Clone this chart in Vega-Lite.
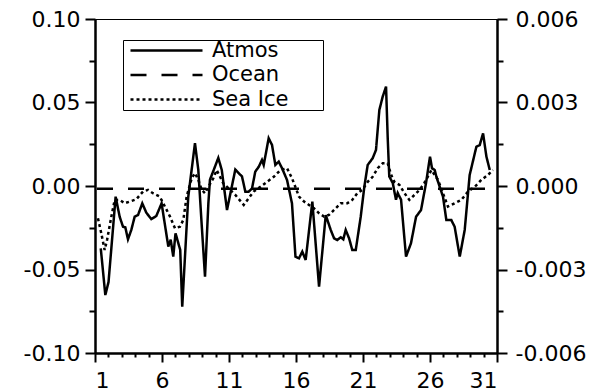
{
  "$schema": "https://vega.github.io/schema/vega-lite/v6.json",
  "width": 402,
  "height": 334,
  "autosize": {"type": "none"},
  "padding": {"left": 95, "top": 19, "right": 105, "bottom": 38},
  "background": "white",
  "config": {
    "view": {"stroke": "black", "strokeWidth": 1},
    "axis": {
      "grid": false,
      "domainColor": "black",
      "domainWidth": 2,
      "tickColor": "black",
      "tickWidth": 2,
      "labelColor": "black",
      "labelFont": "DejaVu Sans",
      "labelFontSize": 22,
      "title": null
    },
    "legend": {
      "labelFont": "DejaVu Sans",
      "labelFontSize": 21,
      "labelColor": "black"
    }
  },
  "datasets": {
    "ocean": [
      {"day": 1.15, "value": -0.0001, "series": "Ocean"},
      {"day": 30.9, "value": -0.0001, "series": "Ocean"}
    ],
    "seaice": [
      {"day": 1.22, "value": -0.00116, "series": "Sea Ice"},
      {"day": 1.47, "value": -0.0017, "series": "Sea Ice"},
      {"day": 1.72, "value": -0.0023, "series": "Sea Ice"},
      {"day": 1.9, "value": -0.00194, "series": "Sea Ice"},
      {"day": 2.22, "value": -0.0011, "series": "Sea Ice"},
      {"day": 2.47, "value": -0.0005, "series": "Sea Ice"},
      {"day": 2.84, "value": -0.0005, "series": "Sea Ice"},
      {"day": 3.22, "value": -0.00062, "series": "Sea Ice"},
      {"day": 3.59, "value": -0.00056, "series": "Sea Ice"},
      {"day": 4.08, "value": -0.00048, "series": "Sea Ice"},
      {"day": 4.58, "value": -0.0002, "series": "Sea Ice"},
      {"day": 4.96, "value": -0.00014, "series": "Sea Ice"},
      {"day": 5.33, "value": -0.00026, "series": "Sea Ice"},
      {"day": 5.83, "value": -0.00038, "series": "Sea Ice"},
      {"day": 6.22, "value": -0.00074, "series": "Sea Ice"},
      {"day": 6.6, "value": -0.0011, "series": "Sea Ice"},
      {"day": 6.97, "value": -0.00152, "series": "Sea Ice"},
      {"day": 7.34, "value": -0.00146, "series": "Sea Ice"},
      {"day": 7.59, "value": -0.00122, "series": "Sea Ice"},
      {"day": 7.84, "value": -0.00038, "series": "Sea Ice"},
      {"day": 8.22, "value": 0.00028, "series": "Sea Ice"},
      {"day": 8.46, "value": 0.00046, "series": "Sea Ice"},
      {"day": 8.71, "value": 0.00022, "series": "Sea Ice"},
      {"day": 8.96, "value": -0.00014, "series": "Sea Ice"},
      {"day": 9.21, "value": -0.00026, "series": "Sea Ice"},
      {"day": 9.46, "value": -0.00003, "series": "Sea Ice"},
      {"day": 9.83, "value": 0.00028, "series": "Sea Ice"},
      {"day": 10.08, "value": 0.00057, "series": "Sea Ice"},
      {"day": 10.57, "value": 0.0001, "series": "Sea Ice"},
      {"day": 10.95, "value": -0.00008, "series": "Sea Ice"},
      {"day": 11.47, "value": -0.00032, "series": "Sea Ice"},
      {"day": 12.1, "value": -0.00068, "series": "Sea Ice"},
      {"day": 12.47, "value": -0.00044, "series": "Sea Ice"},
      {"day": 12.84, "value": -0.0002, "series": "Sea Ice"},
      {"day": 13.34, "value": -0.00003, "series": "Sea Ice"},
      {"day": 13.84, "value": 0.00015, "series": "Sea Ice"},
      {"day": 14.34, "value": 0.00033, "series": "Sea Ice"},
      {"day": 14.83, "value": 0.00057, "series": "Sea Ice"},
      {"day": 15.33, "value": 0.00064, "series": "Sea Ice"},
      {"day": 15.7, "value": 0.00028, "series": "Sea Ice"},
      {"day": 15.95, "value": -0.00003, "series": "Sea Ice"},
      {"day": 16.22, "value": -0.00038, "series": "Sea Ice"},
      {"day": 16.6, "value": -0.00056, "series": "Sea Ice"},
      {"day": 16.97, "value": -0.00068, "series": "Sea Ice"},
      {"day": 17.34, "value": -0.0008, "series": "Sea Ice"},
      {"day": 17.72, "value": -0.00098, "series": "Sea Ice"},
      {"day": 18.1, "value": -0.0011, "series": "Sea Ice"},
      {"day": 18.46, "value": -0.00104, "series": "Sea Ice"},
      {"day": 18.84, "value": -0.00086, "series": "Sea Ice"},
      {"day": 19.34, "value": -0.00062, "series": "Sea Ice"},
      {"day": 19.83, "value": -0.00062, "series": "Sea Ice"},
      {"day": 20.2, "value": -0.0005, "series": "Sea Ice"},
      {"day": 20.57, "value": -0.00026, "series": "Sea Ice"},
      {"day": 20.95, "value": -0.00014, "series": "Sea Ice"},
      {"day": 21.35, "value": 0.00015, "series": "Sea Ice"},
      {"day": 21.72, "value": 0.00033, "series": "Sea Ice"},
      {"day": 22.1, "value": 0.00064, "series": "Sea Ice"},
      {"day": 22.47, "value": 0.00082, "series": "Sea Ice"},
      {"day": 22.84, "value": 0.00082, "series": "Sea Ice"},
      {"day": 23.1, "value": 0.0004, "series": "Sea Ice"},
      {"day": 23.34, "value": 0.00015, "series": "Sea Ice"},
      {"day": 23.72, "value": 0.00004, "series": "Sea Ice"},
      {"day": 24.1, "value": -0.00026, "series": "Sea Ice"},
      {"day": 24.46, "value": -0.0005, "series": "Sea Ice"},
      {"day": 24.84, "value": -0.00032, "series": "Sea Ice"},
      {"day": 25.22, "value": -0.00014, "series": "Sea Ice"},
      {"day": 25.57, "value": 0.0001, "series": "Sea Ice"},
      {"day": 25.83, "value": 0.00033, "series": "Sea Ice"},
      {"day": 26.1, "value": 0.00057, "series": "Sea Ice"},
      {"day": 26.6, "value": 0.00022, "series": "Sea Ice"},
      {"day": 26.97, "value": -0.00026, "series": "Sea Ice"},
      {"day": 27.34, "value": -0.00074, "series": "Sea Ice"},
      {"day": 27.84, "value": -0.00062, "series": "Sea Ice"},
      {"day": 28.34, "value": -0.0005, "series": "Sea Ice"},
      {"day": 28.84, "value": -0.0002, "series": "Sea Ice"},
      {"day": 29.34, "value": -0.00003, "series": "Sea Ice"},
      {"day": 29.83, "value": 0.00022, "series": "Sea Ice"},
      {"day": 30.33, "value": 0.0004, "series": "Sea Ice"},
      {"day": 30.7, "value": 0.00057, "series": "Sea Ice"}
    ],
    "atmos": [
      {"day": 1.43, "value": -0.0373, "series": "Atmos"},
      {"day": 1.77, "value": -0.0653, "series": "Atmos"},
      {"day": 2.01, "value": -0.0575, "series": "Atmos"},
      {"day": 2.54, "value": -0.0064, "series": "Atmos"},
      {"day": 2.84, "value": -0.0184, "series": "Atmos"},
      {"day": 3.09, "value": -0.0244, "series": "Atmos"},
      {"day": 3.26, "value": -0.0247, "series": "Atmos"},
      {"day": 3.46, "value": -0.0319, "series": "Atmos"},
      {"day": 3.71, "value": -0.0263, "series": "Atmos"},
      {"day": 3.96, "value": -0.0184, "series": "Atmos"},
      {"day": 4.21, "value": -0.0174, "series": "Atmos"},
      {"day": 4.53, "value": -0.0104, "series": "Atmos"},
      {"day": 4.83, "value": -0.016, "series": "Atmos"},
      {"day": 5.2, "value": -0.0198, "series": "Atmos"},
      {"day": 5.57, "value": -0.018, "series": "Atmos"},
      {"day": 5.97, "value": -0.0104, "series": "Atmos"},
      {"day": 6.47, "value": -0.0362, "series": "Atmos"},
      {"day": 6.65, "value": -0.0322, "series": "Atmos"},
      {"day": 6.84, "value": -0.0423, "series": "Atmos"},
      {"day": 7.01, "value": -0.0283, "series": "Atmos"},
      {"day": 7.36, "value": -0.0383, "series": "Atmos"},
      {"day": 7.51, "value": -0.0723, "series": "Atmos"},
      {"day": 7.96, "value": -0.0064, "series": "Atmos"},
      {"day": 8.46, "value": 0.0256, "series": "Atmos"},
      {"day": 8.71, "value": 0.0096, "series": "Atmos"},
      {"day": 8.94, "value": -0.0204, "series": "Atmos"},
      {"day": 9.21, "value": -0.0543, "series": "Atmos"},
      {"day": 9.46, "value": -0.0104, "series": "Atmos"},
      {"day": 9.58, "value": 0.0038, "series": "Atmos"},
      {"day": 9.96, "value": 0.0117, "series": "Atmos"},
      {"day": 10.2, "value": 0.0168, "series": "Atmos"},
      {"day": 10.46, "value": 0.0096, "series": "Atmos"},
      {"day": 10.85, "value": -0.0144, "series": "Atmos"},
      {"day": 11.47, "value": 0.0098, "series": "Atmos"},
      {"day": 11.97, "value": 0.0057, "series": "Atmos"},
      {"day": 12.22, "value": -0.0034, "series": "Atmos"},
      {"day": 12.47, "value": -0.0034, "series": "Atmos"},
      {"day": 12.72, "value": -0.0014, "series": "Atmos"},
      {"day": 12.96, "value": 0.0086, "series": "Atmos"},
      {"day": 13.22, "value": 0.0115, "series": "Atmos"},
      {"day": 13.46, "value": 0.0156, "series": "Atmos"},
      {"day": 13.59, "value": 0.0126, "series": "Atmos"},
      {"day": 13.96, "value": 0.0286, "series": "Atmos"},
      {"day": 14.21, "value": 0.0246, "series": "Atmos"},
      {"day": 14.46, "value": 0.0126, "series": "Atmos"},
      {"day": 14.71, "value": 0.0146, "series": "Atmos"},
      {"day": 14.96, "value": 0.0106, "series": "Atmos"},
      {"day": 15.33, "value": 0.0036, "series": "Atmos"},
      {"day": 15.7, "value": -0.0104, "series": "Atmos"},
      {"day": 15.96, "value": -0.0423, "series": "Atmos"},
      {"day": 16.22, "value": -0.0433, "series": "Atmos"},
      {"day": 16.47, "value": -0.0393, "series": "Atmos"},
      {"day": 16.72, "value": -0.0443, "series": "Atmos"},
      {"day": 17.22, "value": -0.0094, "series": "Atmos"},
      {"day": 17.72, "value": -0.0603, "series": "Atmos"},
      {"day": 18.22, "value": -0.0174, "series": "Atmos"},
      {"day": 18.59, "value": -0.0263, "series": "Atmos"},
      {"day": 18.84, "value": -0.0313, "series": "Atmos"},
      {"day": 19.08, "value": -0.0323, "series": "Atmos"},
      {"day": 19.34, "value": -0.0307, "series": "Atmos"},
      {"day": 19.53, "value": -0.0319, "series": "Atmos"},
      {"day": 19.71, "value": -0.0263, "series": "Atmos"},
      {"day": 19.96, "value": -0.0313, "series": "Atmos"},
      {"day": 20.2, "value": -0.0383, "series": "Atmos"},
      {"day": 20.46, "value": -0.0383, "series": "Atmos"},
      {"day": 20.83, "value": -0.0184, "series": "Atmos"},
      {"day": 21.1, "value": -0.0004, "series": "Atmos"},
      {"day": 21.35, "value": 0.0126, "series": "Atmos"},
      {"day": 21.72, "value": 0.0166, "series": "Atmos"},
      {"day": 21.97, "value": 0.0216, "series": "Atmos"},
      {"day": 22.22, "value": 0.0455, "series": "Atmos"},
      {"day": 22.47, "value": 0.0535, "series": "Atmos"},
      {"day": 22.72, "value": 0.0595, "series": "Atmos"},
      {"day": 22.84, "value": 0.0297, "series": "Atmos"},
      {"day": 22.96, "value": 0.0057, "series": "Atmos"},
      {"day": 23.22, "value": 0.0018, "series": "Atmos"},
      {"day": 23.46, "value": -0.0082, "series": "Atmos"},
      {"day": 23.59, "value": -0.0042, "series": "Atmos"},
      {"day": 23.84, "value": -0.0082, "series": "Atmos"},
      {"day": 24.21, "value": -0.0423, "series": "Atmos"},
      {"day": 24.58, "value": -0.0343, "series": "Atmos"},
      {"day": 24.96, "value": -0.0184, "series": "Atmos"},
      {"day": 25.33, "value": -0.0144, "series": "Atmos"},
      {"day": 25.7, "value": 0.0016, "series": "Atmos"},
      {"day": 26.0, "value": 0.0176, "series": "Atmos"},
      {"day": 26.15, "value": 0.0106, "series": "Atmos"},
      {"day": 26.35, "value": 0.0096, "series": "Atmos"},
      {"day": 26.47, "value": 0.0057, "series": "Atmos"},
      {"day": 26.97, "value": -0.0064, "series": "Atmos"},
      {"day": 27.22, "value": -0.0204, "series": "Atmos"},
      {"day": 27.59, "value": -0.0204, "series": "Atmos"},
      {"day": 27.84, "value": -0.0244, "series": "Atmos"},
      {"day": 28.22, "value": -0.0423, "series": "Atmos"},
      {"day": 28.59, "value": -0.0263, "series": "Atmos"},
      {"day": 28.96, "value": 0.0066, "series": "Atmos"},
      {"day": 29.46, "value": 0.0235, "series": "Atmos"},
      {"day": 29.71, "value": 0.0245, "series": "Atmos"},
      {"day": 29.96, "value": 0.0315, "series": "Atmos"},
      {"day": 30.21, "value": 0.0176, "series": "Atmos"},
      {"day": 30.46, "value": 0.0096, "series": "Atmos"}
    ]
  },
  "layer": [
    {
      "data": {"name": "ocean"},
      "mark": {"type": "line", "color": "black", "strokeWidth": 2.5},
      "encoding": {
        "x": {
          "field": "day", "type": "quantitative",
          "scale": {"domain": [1, 31], "nice": false, "zero": false},
          "axis": {"orient": "bottom", "values": [1, 6, 11, 16, 21, 26, 31], "format": "d", "tickSize": 9, "labelPadding": 8}
        },
        "y": {
          "field": "value", "type": "quantitative",
          "scale": {"domain": [-0.006, 0.006], "nice": false, "zero": false},
          "axis": {"orient": "right", "values": [-0.006, -0.003, 0, 0.003, 0.006], "tickSize": 10, "labelPadding": 8,
                   "labelExpr": "datum.value < -0.0000001 ? '-' + format(-datum.value, '.3f') : format(abs(datum.value), '.3f')"}
        },
        "strokeDash": {
          "field": "series", "type": "nominal",
          "scale": {"domain": ["Atmos", "Ocean", "Sea Ice"], "range": [[1, 0], [16, 15], [3, 3]]},
          "legend": {
            "orient": "none", "legendX": 28, "legendY": 21,
            "title": " ", "titleOrient": "right", "titlePadding": 35,
            "padding": 0, "symbolOffset": 33,
            "strokeColor": "black", "fillColor": "white",
            "symbolType": "M-36,0H36", "symbolSize": 4, "symbolStrokeWidth": 2.5, "symbolStrokeColor": "black",
            "symbolFillColor": "transparent",
            "labelOffset": 35, "rowPadding": 2.5
          }
        }
      }
    },
    {
      "data": {"name": "seaice"},
      "mark": {"type": "line", "color": "black", "strokeWidth": 2.5},
      "encoding": {
        "x": {
          "field": "day", "type": "quantitative",
          "scale": {"domain": [1, 31], "nice": false, "zero": false},
          "axis": {"orient": "bottom", "values": [2, 3, 4, 5, 7, 8, 9, 10, 12, 13, 14, 15, 17, 18, 19, 20, 22, 23, 24, 25, 27, 28, 29, 30], "labels": false, "tickSize": 4}
        },
        "y": {
          "field": "value", "type": "quantitative",
          "scale": {"domain": [-0.006, 0.006], "nice": false, "zero": false},
          "axis": {"orient": "right", "values": [-0.0045, -0.0015, 0.0015, 0.0045], "labels": false, "tickSize": 6}
        },
        "strokeDash": {"field": "series", "type": "nominal", "scale": {"domain": ["Atmos", "Ocean", "Sea Ice"], "range": [[1, 0], [16, 15], [3, 3]]}}
      }
    },
    {
      "data": {"name": "atmos"},
      "mark": {"type": "line", "color": "black", "strokeWidth": 2.5},
      "encoding": {
        "x": {
          "field": "day", "type": "quantitative",
          "scale": {"domain": [1, 31], "nice": false, "zero": false},
          "axis": null
        },
        "y": {
          "field": "value", "type": "quantitative",
          "scale": {"domain": [-0.1, 0.1], "nice": false, "zero": false},
          "axis": {"orient": "left", "values": [-0.1, -0.05, 0, 0.05, 0.1], "tickSize": 10, "labelPadding": 5,
                   "labelExpr": "datum.value < -0.0000001 ? '-' + format(-datum.value, '.2f') : format(abs(datum.value), '.2f')"}
        },
        "strokeDash": {"field": "series", "type": "nominal", "scale": {"domain": ["Atmos", "Ocean", "Sea Ice"], "range": [[1, 0], [16, 15], [3, 3]]}}
      }
    },
    {
      "data": {"name": "atmos"},
      "mark": {"type": "line", "color": "black", "strokeWidth": 2, "strokeOpacity": 0},
      "encoding": {
        "x": {
          "field": "day", "type": "quantitative",
          "scale": {"domain": [1, 31], "nice": false, "zero": false},
          "axis": null
        },
        "y": {
          "field": "value", "type": "quantitative",
          "scale": {"domain": [-0.1, 0.1], "nice": false, "zero": false},
          "axis": {"orient": "left", "values": [-0.075, -0.025, 0.025, 0.075], "labels": false, "tickSize": 6}
        }
      }
    }
  ],
  "resolve": {
    "scale": {"x": "shared", "y": "independent"},
    "axis": {"x": "independent", "y": "independent"}
  }
}
